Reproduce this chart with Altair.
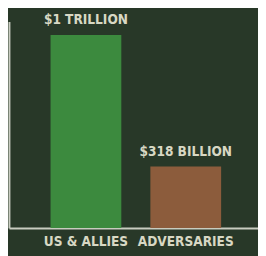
import altair as alt
import pandas as pd

categories = ["US & ALLIES", "ADVERSARIES"]
values = [1000, 318]
labels = ["$1 TRILLION", "$318 BILLION"]
colors = ["#3c8a3e", "#8c5c3c"]

df = pd.DataFrame({"cat": categories, "val": values, "label": labels, "color": colors})

FONT = "DejaVu Sans Condensed, DejaVu Sans, sans-serif"

x = alt.X("cat:N", sort=categories,
          scale=alt.Scale(paddingInner=0.291, paddingOuter=0.393, align=0.53),
          axis=alt.Axis(title=None, labelAngle=0, ticks=False, domainColor="#c8ccc0",
                        domainWidth=2, labelColor="#d8d8c4", labelFont=FONT,
                        labelFontSize=14, labelFontWeight="bold", labelPadding=7))
y = alt.Y("val:Q", scale=alt.Scale(domain=[0, 1070], nice=False),
          axis=alt.Axis(title=None, labels=False, ticks=False, grid=False,
                        domainColor="#c8ccc0", domainWidth=2))

bars = alt.Chart(df).mark_bar().encode(
    x=x, y=y, color=alt.Color("color:N", scale=None)
)
text = alt.Chart(df).mark_text(dy=-11, baseline="alphabetic", font=FONT, fontSize=14,
                               fontWeight="bold", color="#d8d8c4").encode(
    x=alt.X("cat:N", sort=categories), y="val:Q", text="label:N"
)

chart = (bars + text).properties(
    width=257, height=213,
    background="#283828",
    padding={"left": 1, "top": 10, "right": 0, "bottom": 25},
    autosize=alt.AutoSizeParams(type="none"),
).configure_view(stroke=None)

chart.save("out.html", embed_options={"renderer": "svg", "actions": False})
